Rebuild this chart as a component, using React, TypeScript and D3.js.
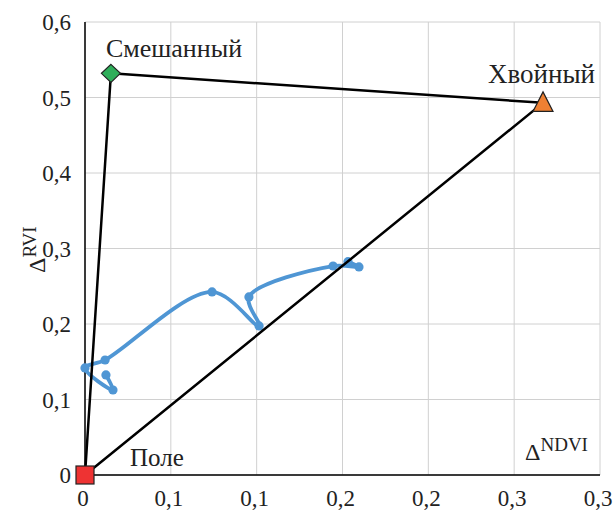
import React from "react";
import * as d3 from "d3";

const xTicks = [0, 0.05, 0.1, 0.15, 0.2, 0.25, 0.3];
const xTickLabels = ["0", "0,1", "0,1", "0,2", "0,2", "0,3", "0,3"];
const yTicks = [0, 0.1, 0.2, 0.3, 0.4, 0.5, 0.6];
const yTickLabels = ["0", "0,1", "0,2", "0,3", "0,4", "0,5", "0,6"];

const vertexNames = ["Поле", "Смешанный", "Хвойный"];
const vertexX = [0, 0.0151, 0.2668];
const vertexY = [0, 0.532, 0.4929];

const pathX = [0.0122, 0.0163, 0.0, 0.0117, 0.074, 0.1014, 0.0955, 0.1445, 0.1596, 0.1532];
const pathY = [0.1325, 0.1126, 0.1418, 0.1523, 0.2425, 0.1974, 0.2358, 0.2768, 0.2756, 0.2825];

const W = 613;
const H = 510;
const L = 85, R = 600, T = 22, B = 475;
const FONT = '"Liberation Serif", "Times New Roman", serif';

export default function App() {
  const x = d3.scaleLinear().domain([0, 0.3]).range([L, R]);
  const y = d3.scaleLinear().domain([0, 0.6]).range([B, T]);

  const pts: [number, number][] = pathX.map((v, i) => [x(v), y(pathY[i])]);
  const line = d3.line().curve(d3.curveCatmullRom.alpha(0.5));
  const tri: [number, number][] = [0, 1, 2, 0].map((i) => [x(vertexX[i]), y(vertexY[i])]);
  const triPath = d3.line()(tri) || "";

  const px = (i: number) => x(vertexX[i]);
  const py = (i: number) => y(vertexY[i]);

  return (
    <svg width={W} height={H} style={{ position: "absolute", left: 0, top: 0, background: "#fff", fontFamily: FONT }}>
      <rect width={W} height={H} fill="#fff" />
      {xTicks.map((t, i) => (
        <line key={"gx" + i} x1={x(t)} x2={x(t)} y1={T} y2={B} stroke="#d0d0d0" strokeWidth={1} />
      ))}
      {yTicks.map((t, i) => (
        <line key={"gy" + i} x1={L} x2={R} y1={y(t)} y2={y(t)} stroke="#d0d0d0" strokeWidth={1} />
      ))}
      <line x1={L} x2={L} y1={T} y2={B} stroke="#000" strokeWidth={1.5} />
      <line x1={L} x2={R} y1={B} y2={B} stroke="#000" strokeWidth={1.5} />

      {yTicks.map((t, i) => (
        <text key={"ty" + i} x={71} y={y(t)} dy="0.35em" textAnchor="end" fontSize={23} fill="#222">
          {yTickLabels[i]}
        </text>
      ))}
      {xTicks.map((t, i) => (
        <text key={"tx" + i} x={x(t) - 2} y={506} textAnchor="middle" fontSize={23} fill="#222">
          {xTickLabels[i]}
        </text>
      ))}

      <path d={line(pts) || ""} fill="none" stroke="#4f96d4" strokeWidth={3.8} strokeLinejoin="round" />
      {pts.map((p, i) => (
        <circle key={"p" + i} cx={p[0]} cy={p[1]} r={4.6} fill="#4f96d4" />
      ))}

      <path d={triPath} fill="none" stroke="#000" strokeWidth={2.5} strokeLinejoin="round" />

      <rect x={px(0) - 9} y={py(0) - 9} width={18} height={18} fill="#ee3333" stroke="#222" strokeWidth={1.2} />
      <path
        d={`M${px(1)},${py(1) - 9} L${px(1) + 9.5},${py(1)} L${px(1)},${py(1) + 9} L${px(1) - 9.5},${py(1)} Z`}
        fill="#2fae5a"
        stroke="#222"
        strokeWidth={1.2}
      />
      <path
        d={`M${px(2)},${py(2) - 11} L${px(2) + 10},${py(2) + 8.5} L${px(2) - 10},${py(2) + 8.5} Z`}
        fill="#ee8033"
        stroke="#222"
        strokeWidth={1.2}
      />

      <text x={130} y={466} fontSize={25} fill="#222">{vertexNames[0]}</text>
      <text x={174} y={57} fontSize={26} textAnchor="middle" fill="#222">{vertexNames[1]}</text>
      <text x={595} y={83} fontSize={27} textAnchor="end" fill="#222">{vertexNames[2]}</text>

      <text x={525} y={460} fontSize={24} fill="#222">
        Δ<tspan fontSize={19} dy={-9}>NDVI</tspan>
      </text>
      <text transform="translate(45,273) rotate(-90)" fontSize={24} fill="#222">
        Δ<tspan fontSize={19} dy={-9}>RVI</tspan>
      </text>
    </svg>
  );
}
